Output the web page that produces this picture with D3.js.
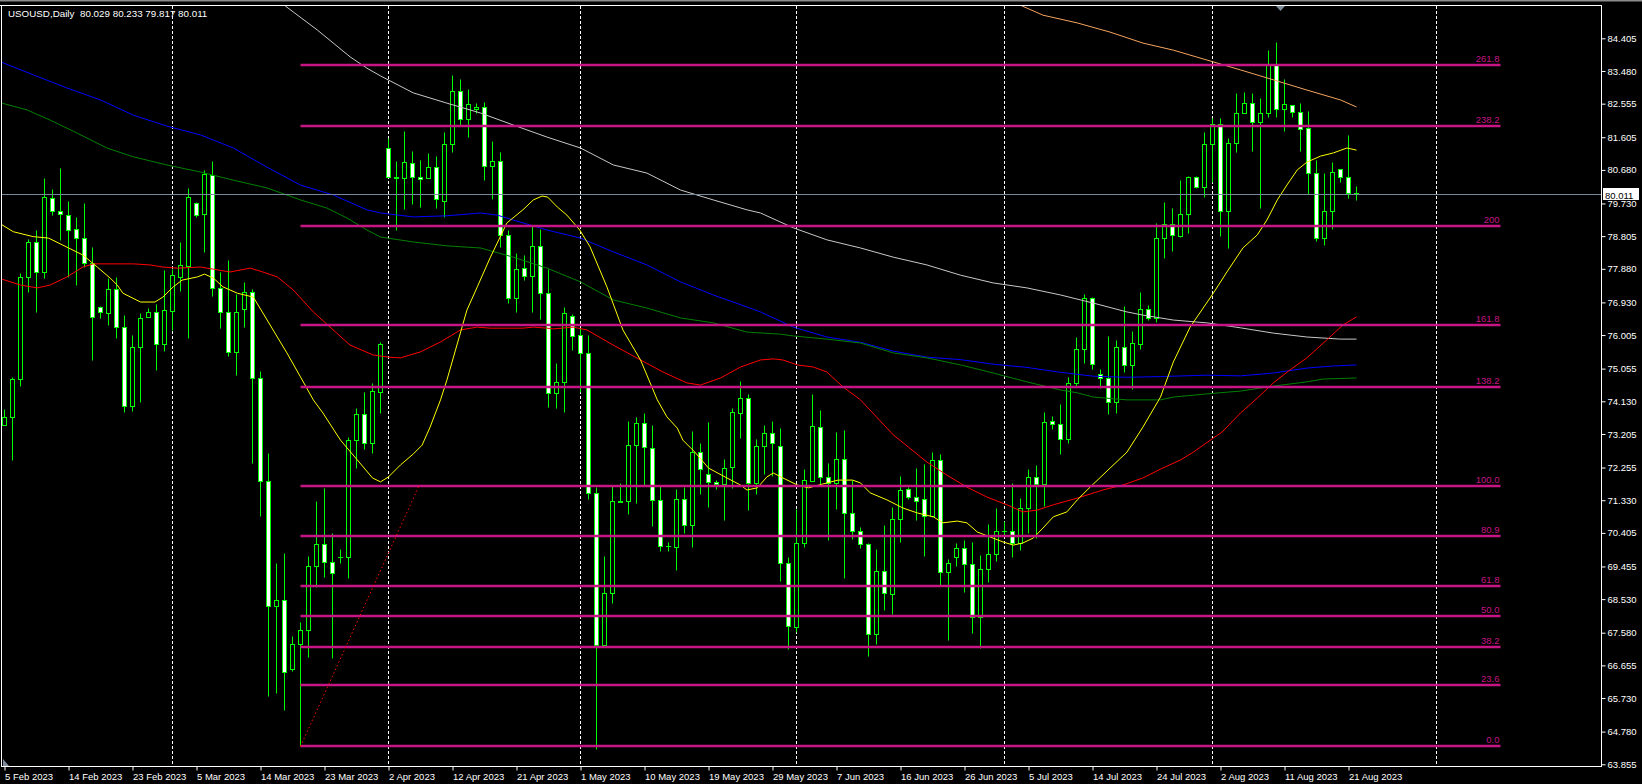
<!DOCTYPE html>
<html><head><meta charset="utf-8">
<script src="https://cdn.jsdelivr.net/npm/d3@7"></script>
<style>html,body{margin:0;padding:0;background:#000;overflow:hidden}</style>
</head><body>
<svg id="c" width="1642" height="784"></svg>
<script>
// ---------------- DATA ----------------
const symbolLabel = "USOUSD,Daily";
const headerValues = "80.029 80.233 79.817 80.011";
const lastPrice = 80.011;

// daily candles, one row per bar: [open, high, low, close]
const ohlc = [
[73.47,73.90,73.47,73.68],[73.69,74.82,72.47,74.76],[74.76,77.76,74.56,77.65],[77.66,78.72,77.23,78.63],
[78.63,78.98,76.67,77.80],[77.80,80.44,77.61,79.92],[79.89,80.14,79.40,79.53],[79.53,80.73,78.70,79.42],
[79.40,79.80,77.66,78.98],[79.00,79.34,77.42,78.74],[78.74,79.74,77.94,78.04],[78.04,78.49,75.30,76.51],
[76.79,76.84,76.50,76.65],[76.64,77.61,76.29,77.30],[77.30,77.64,75.91,76.23],[76.23,76.57,73.83,74.00],
[74.00,76.01,73.86,75.68],[75.66,76.64,74.11,76.48],[76.53,76.76,76.51,76.65],[76.65,76.88,75.02,75.74],
[75.74,77.85,75.56,76.71],[76.70,77.87,76.15,77.70],[77.66,78.63,77.26,77.98],[77.97,80.16,75.91,79.90],
[79.74,79.78,79.34,79.40],[79.42,80.68,78.37,80.56],[80.54,80.94,77.12,77.33],[77.33,77.80,76.20,76.65],
[76.65,78.13,75.42,75.52],[75.52,77.17,74.88,76.67],[76.73,77.52,76.24,77.22],[77.22,77.32,72.38,74.78],
[74.78,74.99,70.88,71.87],[71.87,72.67,65.79,68.34],[68.34,69.55,65.87,68.51],[68.51,69.84,65.39,66.47],
[66.55,67.49,66.50,67.26],[67.26,67.88,64.36,67.66],[67.66,69.75,66.89,69.47],[69.47,71.31,68.87,70.09],
[70.09,71.68,69.16,69.58],[69.58,70.40,66.86,69.27],[69.72,69.95,69.55,69.73],[69.72,73.12,69.13,73.04],
[73.04,73.94,72.24,73.77],[73.77,74.39,72.78,72.95],[72.95,74.65,72.67,74.42],[74.39,75.81,73.80,75.75],
[81.29,81.57,80.48,80.49],[80.49,80.93,78.98,80.44],[80.44,81.78,79.57,80.91],[80.88,81.22,79.72,80.49],
[80.49,80.96,79.64,80.41],[80.44,81.16,80.44,80.75],[80.77,81.08,79.61,79.85],[79.81,81.74,79.36,81.41],
[81.41,83.37,81.20,82.91],[82.91,83.25,81.95,82.11],[82.11,82.97,81.62,82.54],[82.40,82.57,82.28,82.45],
[82.45,82.59,80.39,80.79],[80.79,81.50,79.86,80.92],[80.92,81.18,78.49,78.83],[78.83,78.98,76.90,77.05],
[77.05,78.32,76.65,77.87],[77.90,78.27,77.56,77.68],[77.68,79.10,76.65,78.54],[78.54,79.01,76.46,77.19],
[77.19,77.87,73.98,74.36],[74.36,75.21,73.95,74.69],[74.69,76.81,73.84,76.62],[76.55,76.59,75.58,75.98],
[76.01,76.20,74.40,75.49],[75.49,76.01,71.36,71.53],[71.53,71.70,64.28,67.23],[67.23,69.75,67.23,68.70],
[68.70,71.73,68.43,71.31],[71.27,71.81,71.27,71.32],[71.32,73.57,70.94,72.89],[72.89,73.68,71.26,73.51],
[73.51,73.79,71.76,72.83],[72.80,73.46,70.61,71.34],[71.34,71.75,69.90,70.03],[70.03,70.14,69.90,70.04],
[70.00,71.64,69.36,71.36],[71.36,71.71,70.41,70.62],[70.62,73.29,70.02,72.69],[72.69,72.94,71.52,72.20],
[72.06,73.54,71.15,71.84],[71.84,71.90,71.64,71.78],[71.78,72.49,70.77,72.23],[72.27,73.93,71.67,73.82],
[73.79,74.70,73.10,74.22],[74.22,74.34,71.05,71.83],[71.82,73.06,71.50,72.87],[72.87,73.46,72.07,73.22],
[73.22,73.57,72.02,72.94],[72.87,73.38,69.04,69.56],[69.56,69.71,67.11,67.78],[67.75,71.07,67.61,70.11],
[70.11,72.21,70.02,71.90],[71.88,74.34,71.88,73.43],[73.39,73.88,71.76,72.00],[72.00,72.38,70.20,71.81],
[71.81,73.25,71.08,72.49],[72.49,73.32,69.14,70.96],[70.96,71.90,70.22,70.47],[70.46,70.58,69.97,70.08],
[70.08,70.11,66.93,67.54],[67.54,69.95,67.26,69.32],[69.32,70.63,68.22,68.70],[68.67,71.15,68.11,70.79],
[70.79,72.02,70.16,71.62],[71.64,71.71,71.37,71.43],[71.43,72.25,70.77,71.32],[71.36,72.36,69.76,70.89],
[70.89,72.70,70.85,72.47],[72.47,72.64,68.93,69.31],[69.31,69.66,67.37,69.55],[69.73,70.11,69.48,69.97],
[69.97,70.19,68.74,69.52],[69.52,70.16,67.56,68.02],[68.02,69.78,67.14,69.38],[69.38,70.66,69.01,69.80],
[69.80,71.10,69.62,70.47],[70.46,70.75,70.32,70.47],[70.47,71.81,69.73,70.13],[70.13,71.39,69.92,71.10],
[71.10,72.21,70.41,71.98],[71.98,72.33,70.25,71.78],[71.78,73.82,71.17,73.55],[73.58,73.71,73.35,73.48],
[73.48,74.05,72.63,73.06],[73.06,74.83,72.94,74.64],[74.64,75.94,74.53,75.60],[75.60,77.17,75.21,77.05],
[77.05,77.09,75.04,75.18],[74.90,75.05,74.50,74.78],[74.78,75.98,73.76,74.10],[74.10,75.87,73.79,75.68],
[75.68,76.83,74.97,75.16],[75.16,76.12,74.47,75.77],[75.74,77.22,75.62,76.73],[76.73,76.86,76.43,76.50],
[76.50,79.17,76.37,78.74],[78.74,79.78,78.18,79.14],[79.14,79.59,78.39,78.84],[78.82,80.39,78.77,79.42],
[79.42,80.51,78.89,80.47],[80.47,80.50,80.17,80.19],[80.19,81.74,79.92,81.41],[81.41,82.14,80.35,81.97],
[81.97,82.16,78.82,79.52],[79.52,81.57,78.46,81.45],[81.45,82.85,81.20,82.28],[82.28,82.89,82.28,82.57],
[82.57,82.85,81.22,82.04],[82.04,82.72,79.61,82.28],[82.28,84.07,82.17,83.64],[83.64,84.31,82.17,82.40],
[82.40,83.25,81.79,82.54],[82.51,82.51,82.17,82.31],[82.31,82.57,81.22,81.83],[81.86,82.36,79.99,80.58],
[80.58,80.96,78.68,78.74],[78.74,80.60,78.55,79.53],[79.53,80.91,79.00,80.63],[80.70,80.70,80.35,80.49],
[80.49,81.67,79.89,80.02],[80.029,80.233,79.817,80.011]
];

// bottom axis: [bar index, label]
const dateTicks = [
[0,"5 Feb 2023"],[8,"14 Feb 2023"],[16,"23 Feb 2023"],[24,"5 Mar 2023"],[32,"14 Mar 2023"],
[40,"23 Mar 2023"],[48,"2 Apr 2023"],[56,"12 Apr 2023"],[64,"21 Apr 2023"],[72,"1 May 2023"],
[80,"10 May 2023"],[88,"19 May 2023"],[96,"29 May 2023"],[104,"7 Jun 2023"],[112,"16 Jun 2023"],
[120,"26 Jun 2023"],[128,"5 Jul 2023"],[136,"14 Jul 2023"],[144,"24 Jul 2023"],[152,"2 Aug 2023"],
[160,"11 Aug 2023"],[168,"21 Aug 2023"]
];
// month period separators (bar index of first bar of month)
const separators = [21,48,72,99,125,151,179];

// right axis
const priceTicks = [84.405,83.480,82.555,81.605,80.680,79.730,78.805,77.880,76.930,76.005,75.055,
  74.130,73.205,72.255,71.330,70.405,69.455,68.530,67.580,66.655,65.730,64.780,63.855];

// Fibonacci object
const fibLevels = [0,23.6,38.2,50,61.8,80.9,100,138.2,161.8,200,238.2,261.8];
const fibLabels = ["0.0","23.6","38.2","50.0","61.8","80.9","100.0","138.2","161.8","200","238.2","261.8"];
const fibAnchors = [[37,64.36],[51.8,71.73]];
const fibEndBar = 187;

// moving averages: [bar, price]
const maYellow = [[-0.5,79.15],[1.1,78.93],[3.6,78.79],[5.5,78.75],[7.3,78.55],[9.8,78.27],[11.6,77.93],[13.2,77.62],
[14.1,77.42],[14.8,77.19],[17.0,76.94],[18.8,76.94],[19.8,77.08],[21.1,77.37],[22.2,77.56],[24.1,77.65],[25.0,77.73],
[26.1,77.62],[27.3,77.37],[29.1,77.19],[31.1,77.08],[32.3,76.63],[34.1,75.95],[35.3,75.50],[37.0,74.82],[38.6,74.17],
[39.8,73.80],[42.0,73.03],[44.1,72.47],[46.0,71.96],[47.0,71.85],[48.0,71.99],[49.5,72.33],[51.1,72.64],[52.2,72.89],
[53.2,73.40],[54.5,74.17],[55.3,74.73],[57.8,76.71],[59.1,77.37],[60.7,78.19],[62.8,79.18],[64.8,79.55],[66.1,79.83],
[67.2,79.94],[67.9,79.91],[69.1,79.63],[70.3,79.40],[71.9,78.98],[73.2,78.50],[75.3,77.37],[77.3,76.15],[79.5,75.30],
[81.6,74.17],[82.8,73.69],[84.1,73.37],[84.8,73.03],[86.3,72.69],[88.0,72.24],[90.3,71.96],[92.0,71.76],[92.8,71.62],
[94.1,71.68],[95.3,71.99],[96.1,72.10],[97.3,71.96],[99.1,71.76],[100.5,71.68],[102.3,71.79],[104.2,71.90],[106.0,71.90],
[107.0,71.82],[108.2,71.54],[110.3,71.34],[112.3,71.11],[114.1,70.97],[116.1,70.86],[117.3,70.69],[119.1,70.74],
[120.3,70.69],[121.6,70.43],[123.2,70.29],[124.8,70.15],[126.1,70.06],[127.3,70.12],[128.6,70.26],[129.8,70.54],
[131.1,70.86],[132.8,71.00],[134.1,71.34],[135.7,71.70],[138.2,72.24],[140.3,72.69],[142.3,73.40],[144.5,74.25],
[146.1,75.24],[148.2,76.23],[151.1,77.19],[152.8,77.79],[154.8,78.47],[156.6,78.84],[157.8,79.26],[159.1,79.83],
[160.3,80.25],[161.6,80.68],[162.8,80.90],[164.5,81.07],[166.1,81.16],[167.8,81.30],[169.0,81.24]];
const maRed = [[-0.5,77.60],[2.0,77.42],[4.1,77.34],[5.7,77.42],[7.8,77.65],[9.8,77.93],[11.1,78.02],[16.1,78.02],
[18.2,77.99],[19.8,77.93],[21.6,77.90],[24.5,77.93],[26.1,77.87],[28.2,77.79],[30.7,77.90],[32.3,77.79],[34.1,77.65],
[36.1,77.28],[38.6,76.66],[40.7,76.23],[43.2,75.72],[46.1,75.44],[48.0,75.38],[49.5,75.36],[52.0,75.53],[54.5,75.81],
[57.0,76.15],[59.1,76.23],[60.7,76.20],[62.8,76.20],[64.8,76.20],[66.1,76.23],[67.8,76.20],[68.6,76.18],[71.1,76.23],
[72.8,76.15],[76.1,75.72],[79.5,75.30],[82.3,74.96],[85.3,74.65],[87.0,74.59],[89.5,74.79],[92.0,75.10],[94.5,75.30],
[96.1,75.33],[97.3,75.30],[99.1,75.16],[101.1,75.10],[102.8,74.96],[104.8,74.54],[107.0,74.17],[111.1,73.18],
[115.3,72.41],[117.8,72.04],[120.3,71.70],[122.8,71.42],[125.3,71.20],[127.3,71.00],[129.1,71.05],[131.1,71.20],
[134.1,71.39],[137.3,71.62],[139.8,71.76],[142.3,71.96],[144.5,72.21],[147.0,72.47],[148.6,72.69],[151.1,73.09],
[152.2,73.26],[154.5,73.80],[156.6,74.22],[158.6,74.65],[160.7,75.02],[162.8,75.36],[165.3,75.87],[167.3,76.29],
[169.0,76.52]];
const maGreen = [[-0.5,82.58],[2.8,82.38],[5.7,82.09],[9.1,81.72],[12.8,81.30],[16.1,81.05],[20.3,80.82],[24.5,80.62],
[28.6,80.39],[32.8,80.17],[37.0,79.83],[40.3,79.60],[42.8,79.32],[45.3,78.98],[47.0,78.78],[51.1,78.64],[55.3,78.53],
[59.5,78.47],[63.6,78.21],[67.8,77.90],[72.0,77.51],[76.1,77.00],[80.3,76.77],[84.5,76.49],[88.6,76.35],[92.8,76.09],
[97.0,76.03],[98.6,75.98],[102.8,75.89],[107.0,75.78],[111.1,75.50],[115.3,75.36],[119.5,75.16],[123.6,74.93],
[127.8,74.68],[132.0,74.45],[134.1,74.37],[136.1,74.25],[140.3,74.17],[144.5,74.17],[146.1,74.25],[150.3,74.34],
[154.5,74.42],[158.6,74.56],[162.8,74.68],[164.8,74.76],[169.0,74.79]];
const maBlue = [[-0.5,83.74],[3.6,83.37],[7.8,83.00],[12.0,82.66],[16.1,82.23],[20.3,81.92],[24.5,81.67],[28.6,81.30],
[32.8,80.76],[37.0,80.25],[41.1,79.97],[45.3,79.55],[47.0,79.46],[51.1,79.35],[55.3,79.38],[59.5,79.46],[61.6,79.40],
[63.6,79.26],[67.8,78.98],[72.0,78.75],[76.1,78.36],[80.3,77.99],[84.5,77.51],[88.6,77.14],[92.8,76.80],[94.5,76.66],
[98.6,76.23],[102.8,75.95],[107.0,75.80],[111.1,75.55],[115.3,75.38],[119.5,75.31],[123.6,75.18],[127.8,75.09],
[132.0,74.95],[136.1,74.84],[140.3,74.81],[144.5,74.83],[150.3,74.87],[154.5,74.85],[158.6,74.93],[162.8,75.07],
[166.1,75.13],[169.0,75.16]];
const maSilver = [[30.7,86.06],[35.1,85.32],[39.1,84.64],[43.2,83.88],[45.3,83.56],[47.0,83.34],[51.1,82.86],[55.3,82.57],
[59.5,82.29],[63.6,81.95],[67.8,81.61],[72.0,81.30],[76.1,80.82],[80.3,80.59],[84.5,80.11],[88.6,79.83],[92.8,79.55],
[94.5,79.46],[98.6,79.04],[102.8,78.70],[107.0,78.47],[111.1,78.21],[115.3,77.99],[119.5,77.70],[123.6,77.48],
[127.8,77.34],[132.0,77.14],[136.1,76.91],[140.3,76.66],[142.3,76.57],[146.1,76.43],[150.3,76.35],[154.5,76.21],
[158.6,76.06],[162.8,75.95],[167.0,75.89],[169.0,75.89]];
const maOrange = [[124.5,85.63],[127.2,85.32],[129.8,85.06],[134.1,84.84],[138.2,84.58],[142.3,84.27],[146.1,84.07],
[150.3,83.79],[154.5,83.51],[158.6,83.23],[162.8,82.94],[167.0,82.66],[169.0,82.46]];

// ---------------- DRAW ----------------
const W = 1642, H = 784;
const plot = {left: 2, right: 1601, top: 6, bottom: 766};
const svg = d3.select("#c");
const FONT = "'Liberation Sans', Arial, sans-serif";

const x = d3.scaleLinear().domain([0, 199]).range([4.5, 4.5 + 199 * 8]);
const y = d3.scaleLinear().domain([63.855, 84.405]).range([764.3, 38.3]);
const cy = v => Math.round(y(v)) + 0.5;

svg.append("rect").attr("width", W).attr("height", H).attr("fill", "#000");
// window strip at top
svg.append("rect").attr("x", 0).attr("y", 0).attr("width", W).attr("height", 1.5).attr("fill", "#8c8c8c");

svg.append("defs").append("clipPath").attr("id", "clip")
  .append("rect").attr("x", plot.left).attr("y", plot.top)
  .attr("width", plot.right - plot.left).attr("height", plot.bottom - plot.top);

const g = svg.append("g").attr("clip-path", "url(#clip)");

// period separators
g.selectAll("line.sep").data(separators).join("line")
  .attr("x1", d => x(d)).attr("x2", d => x(d))
  .attr("y1", plot.top).attr("y2", plot.bottom)
  .attr("stroke", "#fff").attr("stroke-width", 1).attr("stroke-dasharray", "3,2");

// candles
const candles = g.append("g");
ohlc.forEach((d, i) => {
  const [o, h, l, c] = d;
  const cx = x(i);
  candles.append("line").attr("x1", cx).attr("x2", cx)
    .attr("y1", cy(h)).attr("y2", cy(l)).attr("stroke", "#00ff00").attr("stroke-width", 1);
  const yt = cy(Math.max(o, c)), yb = cy(Math.min(o, c));
  if (yb - yt < 1) {
    candles.append("line").attr("x1", cx - 2.5).attr("x2", cx + 2.5)
      .attr("y1", yt).attr("y2", yt).attr("stroke", "#00ff00").attr("stroke-width", 1);
  } else {
    candles.append("rect").attr("x", cx - 2).attr("y", yt).attr("width", 4).attr("height", yb - yt)
      .attr("fill", c >= o ? "#000" : "#fff").attr("stroke", "#00ff00").attr("stroke-width", 1);
  }
});

// moving averages
const line = d3.line().x(d => x(d[0])).y(d => y(d[1]));
[[maSilver, "#c8c8c8"], [maOrange, "#f4a460"], [maBlue, "#0000ff"], [maGreen, "#008000"],
 [maRed, "#ff0000"], [maYellow, "#ffff00"]].forEach(([data, col]) => {
  g.append("path").datum(data).attr("d", line).attr("fill", "none")
    .attr("stroke", col).attr("stroke-width", 1);
});

// fibonacci levels
const fibLow = fibAnchors[0][1], fibHigh = fibAnchors[1][1];
const fibPrice = lv => fibLow + (fibHigh - fibLow) * lv / 100;
const fibCol = "#c71585";
g.selectAll("line.fib").data(fibLevels).join("line")
  .attr("x1", x(fibAnchors[0][0])).attr("x2", x(fibEndBar))
  .attr("y1", d => Math.round(y(fibPrice(d))))
  .attr("y2", d => Math.round(y(fibPrice(d))))
  .attr("stroke", fibCol).attr("stroke-width", 2.5);
g.selectAll("text.fib").data(fibLevels).join("text")
  .attr("x", x(fibEndBar) - 1).attr("y", d => Math.round(y(fibPrice(d))) - 3)
  .attr("text-anchor", "end").attr("fill", fibCol)
  .attr("font-family", FONT).attr("font-size", "9.5px")
  .text((d, i) => fibLabels[i]);

// fib trend line (dotted red)
g.append("line")
  .attr("x1", x(fibAnchors[0][0])).attr("y1", y(fibAnchors[0][1]))
  .attr("x2", x(fibAnchors[1][0])).attr("y2", y(fibAnchors[1][1]))
  .attr("stroke", "#ff0000").attr("stroke-width", 1).attr("stroke-dasharray", "1.5,2.5");

// current price line
g.append("line").attr("x1", plot.left).attr("x2", plot.right)
  .attr("y1", cy(lastPrice)).attr("y2", cy(lastPrice))
  .attr("stroke", "#778899").attr("stroke-width", 1);

// borders
svg.append("line").attr("x1", 0).attr("x2", plot.right + 0.5).attr("y1", 5.5).attr("y2", 5.5).attr("stroke", "#fff");
svg.append("line").attr("x1", 1.5).attr("x2", 1.5).attr("y1", 5).attr("y2", 767).attr("stroke", "#fff");
svg.append("line").attr("x1", plot.right + 0.5).attr("x2", plot.right + 0.5).attr("y1", 5).attr("y2", 767).attr("stroke", "#fff");
svg.append("line").attr("x1", 1).attr("x2", plot.right + 1).attr("y1", 766.5).attr("y2", 766.5).attr("stroke", "#fff");

// markers
svg.append("path").attr("d", "M1276,6 L1285,6 L1280.5,11 Z").attr("fill", "#7f8c9a");
svg.append("path").attr("d", "M3,766 L3,759 L9,766 Z").attr("fill", "#7f8c9a");

// right axis
const yAxis = d3.axisRight(y).tickValues(priceTicks).tickSize(4).tickPadding(2)
  .tickFormat(d3.format(".3f"));
const ya = svg.append("g").attr("transform", `translate(${plot.right + 0.5},0)`).call(yAxis);
ya.select(".domain").remove();
ya.selectAll("line").attr("stroke", "#fff");
ya.selectAll("text").attr("fill", "#fff").attr("font-family", FONT).attr("font-size", "9.5px");

// price label
const py = cy(lastPrice);
svg.append("rect").attr("x", plot.right + 2).attr("y", py - 6.5).attr("width", 36).attr("height", 12).attr("fill", "#fff");
svg.append("text").attr("x", plot.right + 4).attr("y", py + 4).attr("fill", "#000")
  .attr("font-family", FONT).attr("font-size", "9.5px").text(d3.format(".3f")(lastPrice));

// bottom axis
const xAxis = d3.axisBottom(x).tickValues(dateTicks.map(d => d[0])).tickSize(4).tickPadding(3)
  .tickFormat((d, i) => dateTicks[i][1]);
const xa = svg.append("g").attr("transform", "translate(0,766.5)").call(xAxis);
xa.select(".domain").remove();
xa.selectAll("line").attr("stroke", "#fff");
xa.selectAll("text").attr("fill", "#fff").attr("font-family", FONT).attr("font-size", "9.5px")
  .attr("text-anchor", "start").attr("x", 0);

// header
svg.append("text").attr("x", 8).attr("y", 17).attr("fill", "#fff")
  .attr("font-family", FONT).attr("font-size", "9.8px").text(symbolLabel);
svg.append("text").attr("x", 80).attr("y", 17).attr("fill", "#fff")
  .attr("font-family", FONT).attr("font-size", "9.8px").text(headerValues);
</script>
</body></html>
